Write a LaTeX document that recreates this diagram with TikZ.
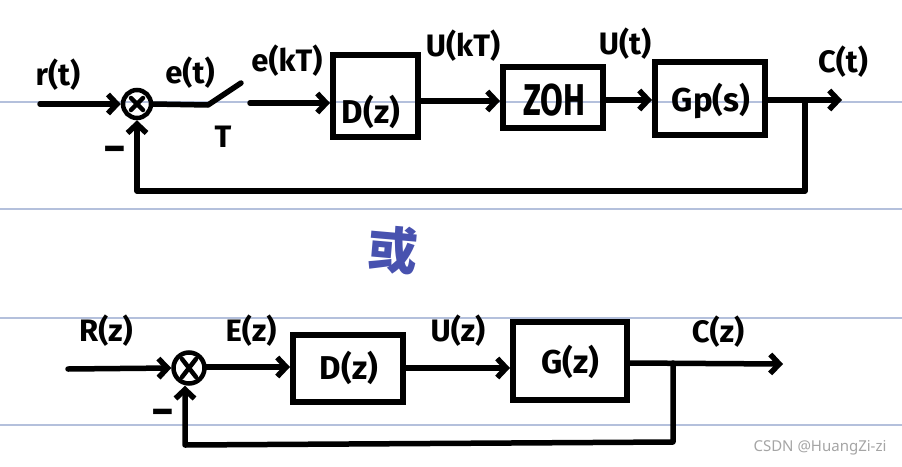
\documentclass[tikz,border=0pt]{standalone}
\usepackage{fontspec}
\setmainfont{Fira Sans}
\newfontfamily\cjkfont{Noto Sans CJK SC}
\newfontfamily\wmfont{Noto Sans}
\usetikzlibrary{arrows.meta}
\definecolor{ruled}{RGB}{180,192,220}
\definecolor{inkblue}{RGB}{72,82,175}
\definecolor{wmgrey}{RGB}{165,165,165}
\tikzset{
  ink/.style={line width=5.5pt, line cap=round, line join=round},
  arr/.style={ink, -{Straight Barb[length=9pt,width=19pt]}},
  blk/.style={draw, line width=6pt, inner sep=0pt},
  lbl/.style={font=\fontsize{31}{33}\selectfont\bfseries, inner sep=0pt},
  boxtxt/.style={font=\fontsize{33}{35}\selectfont\bfseries, inner sep=0pt},
  sumnode/.style={draw, circle, line width=4.5pt, minimum size=28pt, inner sep=0pt},
  ruledline/.style={draw=ruled, line width=1.6pt},
}
\begin{document}
\begin{tikzpicture}[x=1pt,y=-1pt]
\fill[white] (0,0) rectangle (902,466);
\useasboundingbox (0,0) rectangle (902,466);
% ruled paper lines
\coordinate (r1a) at (0,102); \coordinate (r1b) at (902,102);
\coordinate (r2a) at (0,209); \coordinate (r2b) at (902,209);
\coordinate (r3a) at (0,318); \coordinate (r3b) at (902,318);
\coordinate (r4a) at (0,425); \coordinate (r4b) at (902,425);
\draw[ruledline] (r1a) -- (r1b);
\draw[ruledline] (r2a) -- (r2b);
\draw[ruledline] (r3a) -- (r3b);
\draw[ruledline] (r4a) -- (r4b);

% ---------------- top diagram ----------------
\node[sumnode] (sum1) at (137,104) {};
\draw[ink, line width=4.5pt] (sum1.center) ++(-6,-6) -- ++(12,12);
\draw[ink, line width=4.5pt] (sum1.center) ++(6,-6) -- ++(-12,12);

\node[blk, minimum width=85pt, minimum height=82pt] (D1) at (375.5,96) {};
\node[blk, minimum width=100pt, minimum height=61pt] (ZOH) at (553,97.5) {};
\node[blk, minimum width=110pt, minimum height=73pt] (Gp) at (710,98.5) {};

\node[boxtxt] (D1t) at (371,112) {D(z)};
\node[boxtxt] (ZOHt) at (554,100) {\scalebox{1.0}[1.35]{ZOH}};
\node[boxtxt] (Gpt) at (711,101) {Gp(s)};

\coordinate (in1) at (40,104);
\coordinate (sw1) at (208,105);
\coordinate (swtip) at (241,83);
\coordinate (sw2) at (250,103);
\coordinate (y101) at (0,101);
\coordinate (y100) at (0,100);
\coordinate (out1) at (842,100);
\coordinate (br1) at (805,100);
\coordinate (fb1) at (805,191);
\coordinate (fb2) at (137,191);

\draw[arr] (in1) -- (sum1.west);
\draw[ink] (sum1.east) -- (sw1) -- (swtip);
\draw[arr] (sw2) -- (sw2 -| D1.west);
\draw[arr] (D1.east |- y101) -- (ZOH.west |- y101);
\draw[arr] (ZOH.east |- y100) -- (Gp.west |- y100);
\draw[arr] (Gp.east |- y100) -- (out1);
\draw[arr] (br1) -- (fb1) -- (fb2) -- (sum1.south);

\node[lbl] (rt) at (58,75) {r(t)};
\node[lbl] (et) at (190,73) {e(t)};
\node[lbl] (T) at (223,137) {T};
\node[lbl] (ekT) at (287,61) {e(kT)};
\node[lbl] (UkT) at (463,46) {U(kT)};
\node[lbl] (Ut) at (625,44) {U(t)};
\node[lbl] (Ct) at (843,62) {C(t)};
\node[lbl, font=\fontsize{44}{44}\selectfont\bfseries] (m1) at (115,155) {−};

% ---------------- middle ----------------
\node[font=\fontsize{50}{52}\selectfont\cjkfont\bfseries, text=inkblue, inner sep=0pt, rotate=-5] (huo) at (393,250) {或};

% ---------------- bottom diagram ----------------
\node[sumnode, minimum size=31pt] (sum2) at (189,368) {};
\draw[ink, line width=4.5pt] (sum2.center) ++(-7,-9) -- ++(14,18);
\draw[ink, line width=4.5pt] (sum2.center) ++(7,-9) -- ++(-14,18);

\node[blk, minimum width=110pt, minimum height=67pt] (D2) at (348,368.5) {};
\node[blk, minimum width=114pt, minimum height=78pt] (G2) at (570,361) {};

\node[boxtxt] (D2t) at (349,368) {D(z)};
\node[boxtxt] (G2t) at (570,362) {G(z)};

\coordinate (in2) at (68,369);
\coordinate (y367) at (0,367);
\coordinate (y368) at (0,368);
\coordinate (y363) at (0,363);
\coordinate (out2) at (783,364);
\coordinate (br2) at (673,363);
\coordinate (fb3) at (673,442);
\coordinate (fb4) at (185,445);

\draw[arr] (in2) -- (sum2.west);
\draw[arr] (sum2.east |- y367) -- (D2.west |- y367);
\draw[arr] (D2.east |- y368) -- (G2.west |- y368);
\draw[arr] (G2.east |- y363) -- (out2);
\draw[arr] (br2) -- (fb3) -- (fb4) -- (fb4 |- sum2.south);

\node[lbl] (Rz) at (106,331) {R(z)};
\node[lbl] (Ez) at (251,331) {E(z)};
\node[lbl] (Uz) at (458,331) {U(z)};
\node[lbl] (Cz) at (718,332) {C(z)};
\node[lbl, font=\fontsize{44}{44}\selectfont\bfseries] (m2) at (163,418) {−};

% watermark
\node[font=\fontsize{15}{16}\selectfont\wmfont, text=wmgrey, inner sep=0pt] (wm) at (820,448) {CSDN @HuangZi-zi};
\end{tikzpicture}
\end{document}
